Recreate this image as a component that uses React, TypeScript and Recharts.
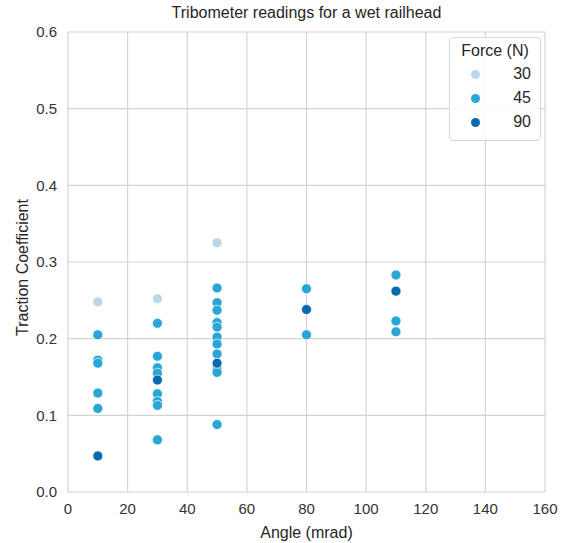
import { ScatterChart, Scatter, XAxis, YAxis, CartesianGrid } from "recharts";

const xTicks = [0, 20, 40, 60, 80, 100, 120, 140, 160];
const yTicks = [0, 0.1, 0.2, 0.3, 0.4, 0.5, 0.6];

const force30 = [
  { angle: 10, traction: 0.248 },
  { angle: 30, traction: 0.252 },
  { angle: 50, traction: 0.325 },
];

const force45 = [
  { angle: 10, traction: 0.205 },
  { angle: 10, traction: 0.172 },
  { angle: 10, traction: 0.168 },
  { angle: 10, traction: 0.129 },
  { angle: 10, traction: 0.109 },
  { angle: 30, traction: 0.22 },
  { angle: 30, traction: 0.177 },
  { angle: 30, traction: 0.162 },
  { angle: 30, traction: 0.155 },
  { angle: 30, traction: 0.128 },
  { angle: 30, traction: 0.118 },
  { angle: 30, traction: 0.113 },
  { angle: 30, traction: 0.068 },
  { angle: 50, traction: 0.266 },
  { angle: 50, traction: 0.247 },
  { angle: 50, traction: 0.237 },
  { angle: 50, traction: 0.221 },
  { angle: 50, traction: 0.215 },
  { angle: 50, traction: 0.202 },
  { angle: 50, traction: 0.193 },
  { angle: 50, traction: 0.18 },
  { angle: 50, traction: 0.16 },
  { angle: 50, traction: 0.156 },
  { angle: 50, traction: 0.088 },
  { angle: 80, traction: 0.265 },
  { angle: 80, traction: 0.205 },
  { angle: 110, traction: 0.283 },
  { angle: 110, traction: 0.223 },
  { angle: 110, traction: 0.209 },
];

const force90 = [
  { angle: 10, traction: 0.047 },
  { angle: 30, traction: 0.146 },
  { angle: 50, traction: 0.168 },
  { angle: 80, traction: 0.238 },
  { angle: 110, traction: 0.262 },
];

const series = [
  { name: "30", data: force30, color: "#bcd7ec" },
  { name: "45", data: force45, color: "#2aa6d6" },
  { name: "90", data: force90, color: "#0a6aae" },
];

const font = "'Liberation Sans', Arial, sans-serif";

const dot = (color: string) => (props: any) =>
  <circle cx={props.cx} cy={props.cy} r={5} fill={color} stroke="#fff" strokeWidth={0.7} />;

function LegendBox() {
  return (
    <div
      style={{
        position: "absolute",
        top: 37,
        left: 449,
        width: 72,
        background: "rgba(255,255,255,0.85)",
        border: "1px solid #d8d8d8",
        borderRadius: 4,
        padding: "4px 9px 6px 9px",
        fontFamily: font,
        fontSize: 16,
        color: "#262626",
      }}
    >
      <div style={{ textAlign: "center", marginBottom: 2 }}>Force (N)</div>
      {series.map((s) => (
        <div key={s.name} style={{ display: "flex", alignItems: "center", justifyContent: "space-between", height: 24 }}>
          <span style={{ width: 9, height: 9, borderRadius: "50%", background: s.color, marginLeft: 12 }} />
          <span>{s.name}</span>
        </div>
      ))}
    </div>
  );
}

export default function App() {
  return (
    <div style={{ position: "absolute", left: 0, top: 0, width: 573, height: 543, background: "#fff" }}>
      <div
        style={{
          position: "absolute",
          top: 4,
          left: 68,
          width: 477,
          textAlign: "center",
          fontFamily: font,
          fontSize: 16,
          color: "#262626",
        }}
      >
        Tribometer readings for a wet railhead
      </div>
      <ScatterChart width={573} height={543} margin={{ top: 32, right: 28, bottom: 0, left: 18 }}>
        <CartesianGrid stroke="#d4d4d4" strokeWidth={1.2} />
        <XAxis
          type="number"
          dataKey="angle"
          domain={[0, 160]}
          ticks={xTicks}
          axisLine={false}
          tickLine={false}
          height={51}
          tickMargin={5}
          tick={{ fill: "#333", fontSize: 15, fontFamily: font }}
          label={{ value: "Angle (mrad)", position: "insideBottom", offset: 5, fill: "#262626", fontSize: 16, fontFamily: font }}
        />
        <YAxis
          type="number"
          dataKey="traction"
          domain={[0, 0.6]}
          ticks={yTicks}
          axisLine={false}
          tickLine={false}
          width={50}
          tickMargin={5}
          tickFormatter={(v: number) => v.toFixed(1)}
          tick={{ fill: "#333", fontSize: 15, fontFamily: font }}
          label={{ value: "Traction Coefficient", angle: -90, position: "insideLeft", offset: 4, dy: 74, fill: "#262626", fontSize: 16, fontFamily: font }}
        />
        {series.map((s) => (
          <Scatter key={s.name} name={s.name} data={s.data} fill={s.color} shape={dot(s.color)} isAnimationActive={false} />
        ))}
      </ScatterChart>
      <LegendBox />
    </div>
  );
}
